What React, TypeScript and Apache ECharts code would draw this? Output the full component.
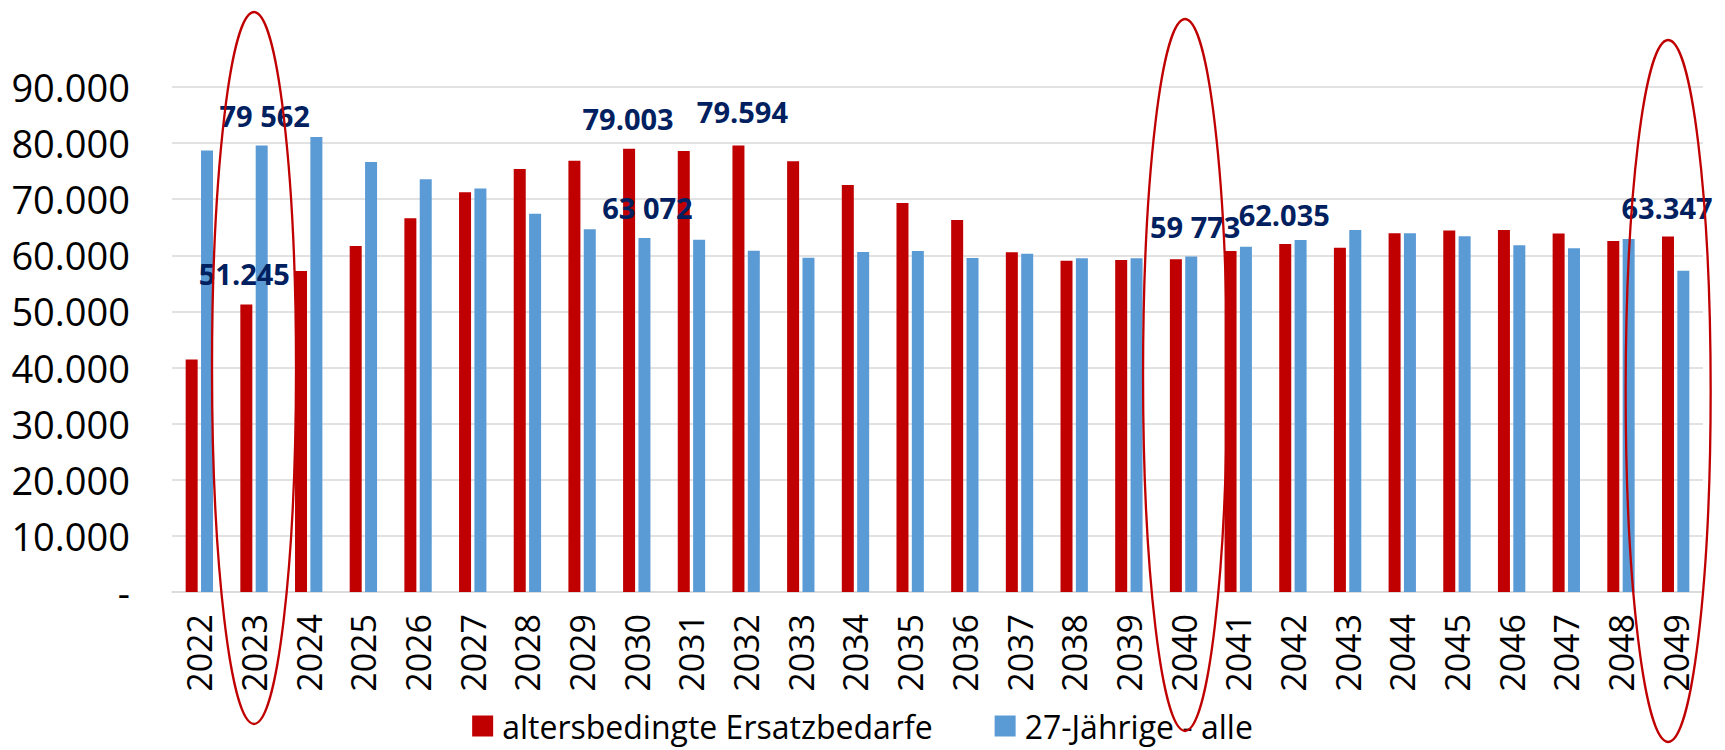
import React, { useEffect, useRef } from "react";
import * as echarts from "echarts";

const years = [
  "2022", "2023", "2024", "2025", "2026", "2027", "2028", "2029", "2030", "2031",
  "2032", "2033", "2034", "2035", "2036", "2037", "2038", "2039", "2040", "2041",
  "2042", "2043", "2044", "2045", "2046", "2047", "2048", "2049",
];

const ersatzbedarfe = [
  41450, 51245, 57200, 61650, 66600, 71250, 75400, 76850, 79003, 78600,
  79594, 76780, 72550, 69340, 66300, 60550, 59050, 59180, 59300, 60780,
  62035, 61370, 63940, 64410, 64530, 63870, 62570, 63347,
];

const jaehrige27 = [
  78670, 79562, 81100, 76650, 73570, 71900, 67420, 64650, 63072, 62790,
  60830, 59580, 60590, 60770, 59520, 60290, 59470, 59470, 59773, 61550,
  62750, 64530, 63940, 63410, 61800, 61270, 62930, 57270,
];

const seriesNames = ["altersbedingte Ersatzbedarfe", "27-Jährige - alle"];

const labeledRedYears = ["2023", "2030", "2032", "2042", "2049"];
const labeledBlueYears = ["2023", "2030", "2040"];
const highlightedYears = ["2023", "2040", "2049"];

const yMin = 0;
const yMax = 90000;
const yStep = 10000;

// label placement tweaks (style only)
const redLabelOffsets: Record<string, number[]> = {
  "2023": [-2, 0],
  "2030": [-1, 0],
  "2032": [4, -3],
  "2042": [-1, 1],
  "2049": [-1, 1],
};
const blueLabelOffsets: Record<string, number[]> = {
  "2023": [3, 0],
  "2030": [3, 0],
  "2040": [4, 0],
};
// ellipse annotation geometry (style only)
const ellipseStyle: Record<string, { dx: number; cy: number; rx: number; ry: number }> = {
  "2023": { dx: 0, cy: 368, rx: 42, ry: 356 },
  "2040": { dx: 1.5, cy: 375, rx: 42, ry: 356 },
  "2049": { dx: -7.5, cy: 391, rx: 42.5, ry: 351 },
};

const groupDigits = (v: number, sep: string) =>
  String(Math.round(v)).replace(/\B(?=(\d{3})+(?!\d))/g, sep);

const RED = "#C00000";
const BLUE = "#5B9BD5";
const LABEL_COLOR = "#002060";
const FONT = "'Open Sans', 'Liberation Sans', sans-serif";

export default function App() {
  const ref = useRef<HTMLDivElement>(null);

  useEffect(() => {
    document.body.style.margin = "0";
    if (!ref.current) return;
    const chart = echarts.init(ref.current, undefined, { renderer: "svg" });

    const labelBase = {
      show: false,
      position: "top",
      distance: 16,
      fontFamily: FONT,
      fontWeight: "bold",
      fontSize: 29,
      color: LABEL_COLOR,
    };

    const redData = years.map((y, i) =>
      labeledRedYears.includes(y)
        ? { value: ersatzbedarfe[i], label: { show: true, offset: redLabelOffsets[y] || [0, 0] } }
        : ersatzbedarfe[i]
    );
    const blueData = years.map((y, i) =>
      labeledBlueYears.includes(y)
        ? { value: jaehrige27[i], label: { show: true, offset: blueLabelOffsets[y] || [0, 0] } }
        : jaehrige27[i]
    );

    chart.setOption({
      animation: false,
      backgroundColor: "#ffffff",
      textStyle: { fontFamily: FONT },
      grid: { left: 172, right: 22, top: 87, bottom: 158, containLabel: false },
      legend: {
        data: seriesNames,
        left: "center",
        top: 705,
        icon: "rect",
        itemWidth: 21,
        itemHeight: 21,
        itemGap: 62,
        textStyle: {
          fontFamily: FONT,
          fontSize: 32,
          color: "#000000",
          lineHeight: 32,
          padding: [0, 0, 0, 4],
        },
      },
      xAxis: {
        type: "category",
        data: years,
        axisTick: { show: false },
        axisLine: { show: true, lineStyle: { color: "#D9D9D9", width: 1.5 } },
        axisLabel: {
          rotate: 90,
          margin: 22,
          interval: 0,
          fontFamily: FONT,
          fontSize: 34,
          color: "#000000",
        },
      },
      yAxis: {
        type: "value",
        min: yMin,
        max: yMax,
        interval: yStep,
        axisLine: { show: false },
        axisTick: { show: false },
        splitLine: { lineStyle: { color: "#D9D9D9", width: 1.5 } },
        axisLabel: {
          margin: 42,
          fontFamily: FONT,
          fontSize: 38,
          color: "#000000",
          formatter: (v: number) => (v === 0 ? "-" : groupDigits(v, ".")),
        },
      },
      series: [
        {
          name: seriesNames[0],
          type: "bar",
          data: redData,
          barWidth: 12,
          barGap: "28%",
          itemStyle: { color: RED },
          label: { ...labelBase, formatter: (p: any) => groupDigits(p.value, ".") },
        },
        {
          name: seriesNames[1],
          type: "bar",
          data: blueData,
          barWidth: 12,
          barGap: "28%",
          itemStyle: { color: BLUE },
          label: { ...labelBase, formatter: (p: any) => groupDigits(p.value, " ") },
        },
      ],
    });

    const ellipses = highlightedYears.map((y) => {
      const cx = chart.convertToPixel({ xAxisIndex: 0 }, y) as number;
      const s = ellipseStyle[y];
      return {
        type: "ellipse",
        z: 100,
        shape: { cx: cx + s.dx, cy: s.cy, rx: s.rx, ry: s.ry },
        style: { fill: "none", stroke: RED, lineWidth: 2.3 },
        silent: true,
      };
    });
    chart.setOption({ graphic: ellipses });

    return () => chart.dispose();
  }, []);

  return <div ref={ref} style={{ width: 1725, height: 750 }} />;
}
